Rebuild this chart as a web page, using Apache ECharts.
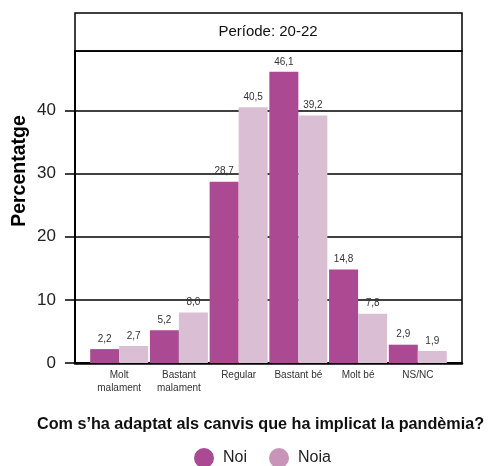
<!DOCTYPE html>
<html>
<head>
<meta charset="utf-8">
<script src="https://cdn.jsdelivr.net/npm/echarts@6/dist/echarts.min.js"></script>
<style>
  html, body { margin: 0; padding: 0; background: #fff; }
  #chart { width: 489px; height: 466px; }
</style>
</head>
<body>
<div id="chart"></div>
<script>
// data
var categories = ['Molt\nmalament', 'Bastant\nmalament', 'Regular', 'Bastant bé', 'Molt bé', 'NS/NC'];
var noi = [2.2, 5.2, 28.7, 46.1, 14.8, 2.9];
var noia = [2.7, 8.0, 40.5, 39.2, 7.8, 1.9];
var yTicks = [0, 10, 20, 30, 40];

var FONT = 'Liberation Sans';
var chart = echarts.init(document.getElementById('chart'));

function toPoints(arr) {
    return arr.map(function (v, i) { return [i, v]; });
}
function fmt(p) {
    return p.value[1].toFixed(1).replace('.', ',');
}

var option = {
    animation: false,
    textStyle: { fontFamily: FONT },
    title: {
        text: 'Com s\u2019ha adaptat als canvis que ha implicat la pandèmia?',
        left: 32,
        top: 412,
        textStyle: { fontSize: 16.2, fontWeight: 'bold', color: '#111', fontFamily: FONT }
    },
    legend: {
        top: 443,
        left: 189,
        icon: 'circle',
        itemWidth: 20,
        itemHeight: 20,
        itemGap: 22,
        textStyle: { fontSize: 16, color: '#222', fontFamily: FONT, padding: [0, 0, 0, 4] },
        data: [
            { name: 'Noi', itemStyle: { color: '#ab4a93' } },
            { name: 'Noia', itemStyle: { color: '#c894b8' } }
        ]
    },
    grid: {
        left: 75, right: 27, top: 51, bottom: 103,
        show: true, borderColor: '#000', borderWidth: 1.5
    },
    xAxis: {
        type: 'value',
        min: -0.74,
        max: 5.74,
        axisLine: { show: true, lineStyle: { color: '#000', width: 2.5 } },
        axisTick: { show: false },
        splitLine: { show: false },
        axisLabel: {
            customValues: [0, 1, 2, 3, 4, 5],
            formatter: function (v) { return categories[Math.round(v)]; },
            fontSize: 10,
            color: '#333',
            lineHeight: 13,
            margin: 6
        }
    },
    yAxis: {
        type: 'value',
        min: 0,
        max: 49.4,
        interval: 10,
        axisLine: { show: true, onZero: false, lineStyle: { color: '#000', width: 2 } },
        axisTick: { show: true, length: 10, lineStyle: { color: '#000', width: 1.5 } },
        splitLine: { show: true, lineStyle: { color: '#000', width: 1.5 } },
        axisLabel: {
            showMaxLabel: false,
            fontSize: 17,
            color: '#222',
            margin: 19,
            formatter: function (v) { return yTicks.indexOf(v) >= 0 ? String(v) : ''; }
        }
    },
    graphic: [
        {
            type: 'rect',
            shape: { x: 75, y: 13, width: 387, height: 38 },
            style: { fill: '#fff', stroke: '#000', lineWidth: 1.5 }
        },
        {
            type: 'text',
            x: 268, y: 32,
            style: {
                text: 'Període: 20-22', font: '15px "Liberation Sans"',
                fill: '#111', textAlign: 'center', textVerticalAlign: 'middle'
            }
        },
        {
            type: 'text',
            x: 20, y: 171,
            rotation: Math.PI / 2,
            style: {
                text: 'Percentatge', font: 'bold 19.5px "Liberation Sans"',
                fill: '#000', textAlign: 'center', textVerticalAlign: 'middle'
            }
        }
    ],
    series: [
        {
            name: 'Noi',
            type: 'bar',
            barWidth: 29,
            barGap: '0%',
            data: toPoints(noi),
            itemStyle: { color: '#ab4a93' },
            label: { show: true, position: 'top', distance: 5, fontSize: 10, color: '#333', formatter: fmt }
        },
        {
            name: 'Noia',
            type: 'bar',
            barWidth: 29,
            barGap: '0%',
            data: toPoints(noia),
            itemStyle: { color: '#dabfd4' },
            label: { show: true, position: 'top', distance: 5, fontSize: 10, color: '#333', formatter: fmt }
        }
    ]
};

chart.setOption(option);
</script>
</body>
</html>
